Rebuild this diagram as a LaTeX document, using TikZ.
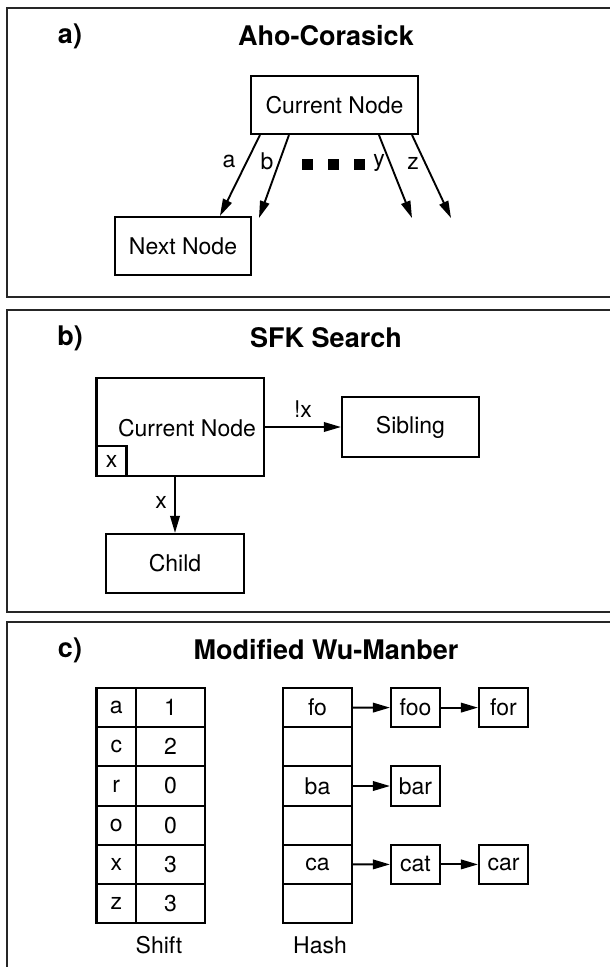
\documentclass[tikz,border=0pt]{standalone}
\usepackage{fontspec}
\setmainfont{TeX Gyre Heros}
\usetikzlibrary{arrows.meta,calc}

\tikzset{
  panel/.style={draw=black!85, line width=2.4pt},
  tag/.style={font=\fontsize{27}{30}\selectfont\bfseries, inner sep=0pt},
  heading/.style={font=\fontsize{27}{30}\selectfont\bfseries, inner sep=0pt},
  txt/.style={font=\fontsize{23}{26}\selectfont, inner sep=0pt},
  box/.style={draw, line width=2.1pt, inner sep=0pt, font=\fontsize{23}{26}\selectfont},
  arr/.style={line width=1.9pt, -{Triangle[length=17pt,width=9.5pt]}},
  dot/.style={fill=black, inner sep=0pt, minimum size=11pt},
}

\begin{document}
\begin{tikzpicture}[x=1pt, y=-1pt]
\useasboundingbox (0,0) rectangle (610,967);

% ---------------- a) Aho-Corasick ----------------
\draw[panel] (7,8) rectangle (630,297);
\node[tag] (taga) at (70,36) {a)};
\node[heading] (titlea) at (326,36) {Aho-Corasick};

\node[box, minimum width=167pt, minimum height=58pt] (cur) at (334.5,105) {Current Node};
\node[box, minimum width=136pt, minimum height=58pt] (next) at (183,246) {Next Node};

\coordinate (endb) at (259,218);
\coordinate (endy) at (412,218);
\coordinate (endz) at (451,218);

\draw[arr] ($(cur.south west)+(10,0)$) -- ($(next.north west)+(106,0)$);
\draw[arr] ($(cur.south west)+(39,0)$) -- (endb);
\draw[arr] ($(cur.south west)+(129,0)$) -- (endy);
\draw[arr] ($(cur.south east)+(-7,0)$) -- (endz);

\node[txt] (la) at (229,161) {a};
\node[txt] (lb) at (267,161) {b};
\node[txt] (ly) at (379,163) {y};
\node[txt] (lz) at (413,163) {z};

\node[dot] (d1) at (307.5,164) {};
\node[dot] (d2) at (333,164) {};
\node[dot] (d3) at (359,164) {};

% ---------------- b) SFK Search ----------------
\draw[panel] (7,310) rectangle (630,612);
\node[tag] (tagb) at (70,338) {b)};
\node[heading] (titleb) at (326,338) {SFK Search};

\node[box, minimum width=167.5pt, minimum height=98pt] (node) at (180.25,427) {};
\node[txt] (nodetxt) at (187,428) {Current Node};
\node[box, anchor=south west, minimum width=30pt, minimum height=30pt] (xkey) at (node.south west) {x};

\node[box, minimum width=137pt, minimum height=60pt] (sib) at (410.5,427) {Sibling};
\node[box, minimum width=138pt, minimum height=59pt] (child) at (175,563.5) {Child};

\draw[arr] (node.east) -- (sib.west);
\node[txt] (lnx) at (303,409) {!x};
\draw[arr] (child.north |- node.south) -- (child.north);
\node[txt] (lx) at (161,502) {x};

% ---------------- c) Modified Wu-Manber ----------------
\draw[panel] (7,622) rectangle (630,990);
\node[tag] (tagc) at (70,650) {c)};
\node[heading] (titlec) at (326,650) {Modified Wu-Manber};

% shift table
\foreach \k/\v [count=\i] in {a/1, c/2, r/0, o/0, x/3, z/3}{
  \node[box, minimum width=39.5pt, minimum height=39.2pt]
    (sk\i) at (116.25, {688+39.2*(\i-0.5)}) {\k};
  \node[box, minimum width=69pt, minimum height=39.2pt]
    (sv\i) at (170.5, {688+39.2*(\i-0.5)}) {\v};
}
\node[txt] (shiftlbl) at (159,945) {Shift};

% hash table
\foreach \h [count=\i] in {fo, {}, ba, {}, ca, {}}{
  \node[box, minimum width=69pt, minimum height=39.2pt]
    (h\i) at (317.5, {688+39.2*(\i-0.5)}) {\h};
}
\node[txt] (hashlbl) at (320,945) {Hash};

% bucket chains
\node[box, minimum width=49pt, minimum height=39.2pt] (foo) at (415.5,707.6) {foo};
\node[box, minimum width=49pt, minimum height=39.2pt] (for) at (503.5,707.6) {for};
\node[box, minimum width=49pt, minimum height=39.2pt] (bar) at (415.5,786.0) {bar};
\node[box, minimum width=49pt, minimum height=39.2pt] (cat) at (415.5,864.4) {cat};
\node[box, minimum width=49pt, minimum height=39.2pt] (car) at (503.5,864.4) {car};

\draw[arr] (h1.east) -- (foo.west);
\draw[arr] (foo.east) -- (for.west);
\draw[arr] (h3.east) -- (bar.west);
\draw[arr] (h5.east) -- (cat.west);
\draw[arr] (cat.east) -- (car.west);
\end{tikzpicture}
\end{document}
